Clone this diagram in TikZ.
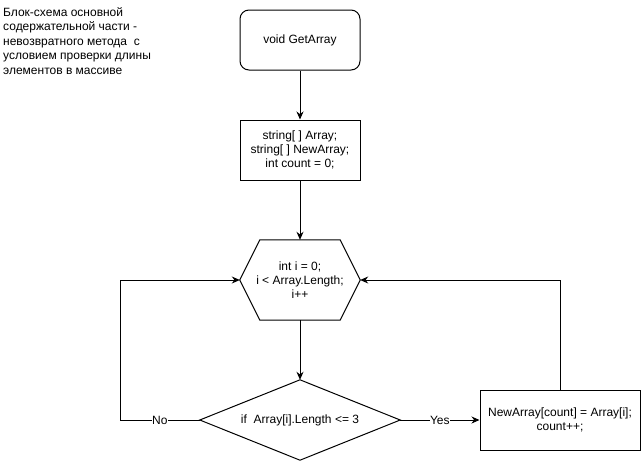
\documentclass[tikz,border=0pt]{standalone}
\usepackage{fontspec}
\setmainfont{Liberation Sans}
\usetikzlibrary{arrows.meta,calc}
\begin{document}
\begin{tikzpicture}[x=1pt,y=-1pt,
  every node/.style={font=\fontsize{12}{14}\selectfont, align=center, inner sep=0pt},
  blk/.style={draw, line width=1pt, minimum width=120pt, minimum height=60pt},
  rblk/.style={blk, rounded corners=9pt},
  shp/.style={minimum width=#1, minimum height=80pt},
  conn/.style={line width=1pt, -{Stealth[length=8pt,width=7pt]}},
  lbl/.style={fill=white, inner sep=0.3pt}]
\useasboundingbox (0,0) rectangle (641,461);
\node[anchor=north west, align=left, font=\fontsize{12}{14.5}\selectfont] (title) at (3,7)
  {Блок-схема основной\\содержательной части -\\невозвратного метода\ \ с\\условием проверки длины\\элементов в массиве};
\node[rblk] (start) at (300,40) {void GetArray};
\node[blk] (decl) at (300,150) {string[ ] Array;\\string[ ] NewArray;\\int count = 0;};
\node[shp=120pt] (loop) at (300,280) {int i = 0;\\i < Array.Length;\\i++};
\draw[line width=1pt] (loop.west) -- ([xshift=20pt]loop.north west) -- ([xshift=-20pt]loop.north east)
  -- (loop.east) -- ([xshift=-20pt]loop.south east) -- ([xshift=20pt]loop.south west) -- cycle;
\node[shp=200pt] (cond) at (300,420) {if\ \ Array[i].Length <= 3};
\draw[line width=1pt] (cond.west) -- (cond.north) -- (cond.east) -- (cond.south) -- cycle;
\node[blk, minimum width=160pt] (assign) at (560,420) {NewArray[count] = Array[i];\\count++;};
\coordinate (noturn) at (120,420);
\draw[conn] (start) -- (decl);
\draw[conn] (decl) -- (loop.north);
\draw[conn] (loop.south) -- (cond.north);
\draw[conn] (cond.west) -- node[lbl] {No} (noturn) |- (loop.west);
\draw[conn] (cond.east) -- node[lbl] {Yes} (assign.west);
\draw[conn] (assign.north) |- (loop.east);
\end{tikzpicture}
\end{document}
